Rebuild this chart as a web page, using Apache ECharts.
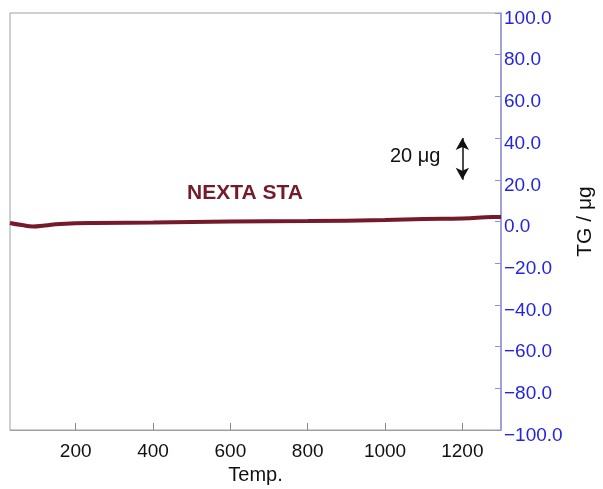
<!DOCTYPE html>
<html>
<head>
<meta charset="utf-8">
<script src="https://cdn.jsdelivr.net/npm/echarts@6/dist/echarts.min.js"></script>
<style>
  html, body { margin: 0; padding: 0; background: #fff; }
  #chart { width: 603px; height: 489px; }
</style>
</head>
<body>
<div id="chart"></div>
<script>
// TG curve (temperature, mass change in ug)
const temps = [30, 60, 90, 120, 160, 250, 400, 500, 600, 800, 1000, 1100, 1200, 1280, 1300]
const tgValues = [-0.7, -1.7, -2.4, -1.9, -1.2, -0.7, -0.5, -0.2, 0, 0.2, 0.7, 1.2, 1.4, 2.2, 2.2]
const xTicks = [200, 400, 600, 800, 1000, 1200]
// scale bar: 20 ug at temp 1200
const scaleBar = { temp: 1200, from: 20, to: 40 }

const chart = echarts.init(document.getElementById('chart'))
const font = 'Liberation Sans, Arial, sans-serif'

chart.setOption({
  animation: false,
  grid: {
    left: 10,
    right: 102,
    top: 13,
    bottom: 59,
    outerBoundsMode: 'none',
    show: true,
    borderColor: '#a0a0a0',
    borderWidth: 1
  },
  xAxis: {
    type: 'value',
    min: 30,
    max: 1300,
    name: 'Temp.',
    nameLocation: 'middle',
    nameGap: 33,
    nameTextStyle: { color: '#111', fontSize: 20, fontFamily: font },
    splitLine: { show: false },
    axisLine: { onZero: false, lineStyle: { color: '#a0a0a0' } },
    axisTick: {
      inside: true,
      length: 7,
      customValues: xTicks,
      lineStyle: { color: '#888' }
    },
    axisLabel: {
      customValues: xTicks,
      color: '#111',
      fontSize: 19,
      fontFamily: font,
      margin: 12,
      formatter: v => String(v)
    }
  },
  yAxis: {
    type: 'value',
    position: 'right',
    min: -100,
    max: 100,
    interval: 20,
    name: 'TG / μg',
    nameLocation: 'middle',
    nameRotate: 90,
    nameGap: 74,
    nameTextStyle: { color: '#111', fontSize: 21, fontFamily: font },
    splitLine: { show: false },
    axisLine: { show: true, lineStyle: { color: '#9090e0', width: 1.5 } },
    axisTick: { show: true, inside: true, length: 6, lineStyle: { color: '#9090e0' } },
    axisLabel: {
      margin: 3,
      formatter: v => '{v|' + (v < 0 ? '\u2212' + Math.abs(v).toFixed(1) : v.toFixed(1)) + '}',
      rich: {
        v: {
          color: '#2424e0',
          fontSize: 19,
          fontFamily: font,
          padding: [11, 0, 0, 0]
        }
      }
    }
  },
  series: [{
    type: 'line',
    data: temps.map((t, i) => [t, tgValues[i]]),
    smooth: true,
    showSymbol: false,
    lineStyle: { color: '#741a2a', width: 4 },
    markLine: {
      silent: true,
      symbol: ['arrow', 'arrow'],
      symbolSize: [10, 12],
      label: { show: false },
      lineStyle: { color: '#111', width: 1.5, type: 'solid' },
      data: [[
        { coord: [scaleBar.temp, scaleBar.from] },
        { coord: [scaleBar.temp, scaleBar.to] }
      ]]
    }
  }],
  graphic: [
    {
      type: 'text',
      left: 187,
      top: 183,
      style: {
        text: 'NEXTA STA',
        fill: '#741a2a',
        font: 'bold 21px ' + font
      }
    },
    {
      type: 'text',
      left: 390,
      top: 146,
      style: {
        text: '20 μg',
        fill: '#111',
        font: '20px ' + font
      }
    }
  ]
})
</script>
</body>
</html>
